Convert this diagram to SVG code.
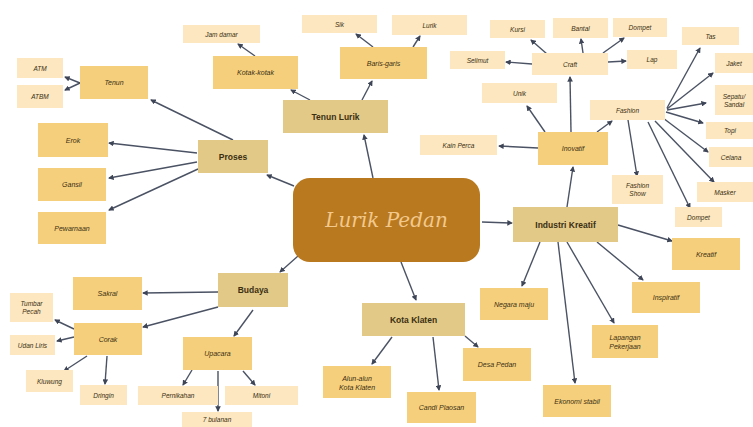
<svg xmlns="http://www.w3.org/2000/svg" width="753" height="427" viewBox="0 0 753 427">
<style>
  .l1 rect { fill: #E2C987; }
  .l2 rect { fill: #F6CF7C; }
  .l3 rect { fill: #FCE7C0; }
  text { font-family: "Liberation Sans", Arial, sans-serif; fill: #3B2F12; text-anchor: middle; dominant-baseline: central; }
  .l1 text { font-size: 8.5px; font-weight: bold; }
  .l2 text { font-size: 7px; font-style: italic; }
  .l3 text { font-size: 6.5px; font-style: italic; }
  #connectors line { stroke: #4A5263; stroke-width: 1.4; marker-end: url(#arr); }
</style>
<defs>
  <marker id="arr" viewBox="0 0 6 6" refX="5" refY="3" markerWidth="4" markerHeight="4" orient="auto">
    <path d="M0,0 L6,3 L0,6 z" fill="#3E4556"/>
  </marker>
</defs>
<rect width="753" height="427" fill="#FFFFFF"/>

<g id="connectors">
  <!-- center -->
  <line x1="373" y1="178" x2="364" y2="135"/>
  <line x1="294" y1="186" x2="267" y2="175"/>
  <line x1="298" y1="256" x2="280" y2="272"/>
  <line x1="401" y1="262" x2="416" y2="300"/>
  <line x1="482" y1="222" x2="512" y2="223"/>
  <!-- Tenun Lurik -->
  <line x1="310" y1="100" x2="291" y2="90"/>
  <line x1="362" y1="100" x2="372" y2="81"/>
  <line x1="255" y1="56" x2="238" y2="44"/>
  <line x1="373" y1="47" x2="356" y2="34"/>
  <line x1="413" y1="47" x2="420" y2="36"/>
  <!-- Proses -->
  <line x1="233" y1="140" x2="151" y2="100"/>
  <line x1="197" y1="153" x2="109" y2="143"/>
  <line x1="197" y1="162" x2="109" y2="178"/>
  <line x1="198" y1="169" x2="109" y2="210"/>
  <line x1="80" y1="83" x2="65" y2="77"/>
  <line x1="80" y1="83" x2="65" y2="90"/>
  <!-- Budaya -->
  <line x1="218" y1="292" x2="143" y2="293"/>
  <line x1="218" y1="307" x2="143" y2="327"/>
  <line x1="253" y1="310" x2="234" y2="336"/>
  <line x1="74" y1="329" x2="55" y2="320"/>
  <line x1="74" y1="337" x2="57" y2="341"/>
  <line x1="87" y1="356" x2="64" y2="371"/>
  <line x1="107" y1="356" x2="105" y2="384"/>
  <line x1="192" y1="370" x2="183" y2="385"/>
  <line x1="218" y1="371" x2="218" y2="411"/>
  <line x1="243" y1="371" x2="255" y2="385"/>
  <!-- Kota Klaten -->
  <line x1="392" y1="337" x2="372" y2="364"/>
  <line x1="433" y1="337" x2="439" y2="390"/>
  <line x1="465" y1="336" x2="478" y2="347"/>
  <!-- Industri Kreatif -->
  <line x1="567" y1="207" x2="573" y2="167"/>
  <line x1="618" y1="225" x2="672" y2="241"/>
  <line x1="540" y1="242" x2="522" y2="286"/>
  <line x1="558" y1="242" x2="575" y2="383"/>
  <line x1="567" y1="242" x2="614" y2="323"/>
  <line x1="597" y1="242" x2="643" y2="280"/>
  <!-- Inovatif -->
  <line x1="538" y1="148" x2="499" y2="146"/>
  <line x1="545" y1="132" x2="527" y2="106"/>
  <line x1="571" y1="132" x2="570" y2="77"/>
  <line x1="597" y1="132" x2="612" y2="121"/>
  <!-- Craft -->
  <line x1="532" y1="64" x2="506" y2="62"/>
  <line x1="547" y1="54" x2="531" y2="40"/>
  <line x1="583" y1="53" x2="581" y2="39"/>
  <line x1="603" y1="53" x2="624" y2="38"/>
  <line x1="608" y1="62" x2="626" y2="61"/>
  <!-- Fashion -->
  <line x1="667" y1="108" x2="700" y2="48"/>
  <line x1="667" y1="109" x2="713" y2="73"/>
  <line x1="667" y1="110" x2="706" y2="103"/>
  <line x1="666" y1="112" x2="703" y2="123"/>
  <line x1="663" y1="118" x2="708" y2="152"/>
  <line x1="655" y1="121" x2="714" y2="182"/>
  <line x1="648" y1="122" x2="690" y2="208"/>
  <line x1="628" y1="120" x2="637" y2="176"/>
</g>

<g id="center">
  <rect x="293" y="178" width="187" height="84" rx="17" fill="#B8791F"/>
  <text x="386.5" y="220" style="font-family:'DejaVu Serif','Liberation Serif',serif;font-style:italic;font-size:20px;fill:#F3C88C;">Lurik Pedan</text>
</g>

<!-- Level 1 -->
<g id="tenun-lurik" class="l1"><rect x="283" y="100" width="105" height="33"/><text x="335.5" y="116.5">Tenun Lurik</text></g>
<g id="proses" class="l1"><rect x="198" y="140" width="70" height="33"/><text x="233" y="156.5">Proses</text></g>
<g id="budaya" class="l1"><rect x="218" y="273" width="70" height="34"/><text x="253" y="290">Budaya</text></g>
<g id="kota-klaten" class="l1"><rect x="362" y="303" width="103" height="33"/><text x="413.5" y="319.5">Kota Klaten</text></g>
<g id="industri-kreatif" class="l1"><rect x="513" y="207" width="105" height="35"/><text x="565.5" y="224.5">Industri Kreatif</text></g>

<!-- Level 2 -->
<g id="kotak-kotak" class="l2"><rect x="213" y="56" width="85" height="33"/><text x="255.5" y="72.5">Kotak-kotak</text></g>
<g id="baris-garis" class="l2"><rect x="340" y="47" width="87" height="32"/><text x="383.5" y="63">Baris-garis</text></g>
<g id="tenun" class="l2"><rect x="80" y="66" width="68" height="33"/><text x="114" y="82.5">Tenun</text></g>
<g id="erok" class="l2"><rect x="38" y="123" width="70" height="34"/><text x="73" y="140">Erok</text></g>
<g id="gansil" class="l2"><rect x="38" y="168" width="68" height="33"/><text x="72" y="184.5">Gansil</text></g>
<g id="pewarnaan" class="l2"><rect x="38" y="212" width="68" height="32"/><text x="72" y="228">Pewarnaan</text></g>
<g id="sakral" class="l2"><rect x="73" y="277" width="69" height="33"/><text x="107.5" y="293.5">Sakral</text></g>
<g id="corak" class="l2"><rect x="74" y="323" width="68" height="32"/><text x="108" y="339">Corak</text></g>
<g id="upacara" class="l2"><rect x="183" y="337" width="69" height="33"/><text x="217.5" y="353.5">Upacara</text></g>
<g id="alun-alun" class="l2"><rect x="323" y="366" width="68" height="32"/><text x="357" y="378">Alun-alun</text><text x="357" y="387">Kota Klaten</text></g>
<g id="candi-plaosan" class="l2"><rect x="407" y="392" width="69" height="31"/><text x="441.5" y="407.5">Candi Plaosan</text></g>
<g id="desa-pedan" class="l2"><rect x="463" y="348" width="68" height="33"/><text x="497" y="364.5">Desa Pedan</text></g>
<g id="negara-maju" class="l2"><rect x="480" y="288" width="68" height="32"/><text x="514" y="304">Negara maju</text></g>
<g id="ekonomi-stabil" class="l2"><rect x="543" y="385" width="68" height="32"/><text x="577" y="401">Ekonomi stabil</text></g>
<g id="lapangan-pekerjaan" class="l2"><rect x="592" y="325" width="66" height="33"/><text x="625" y="337">Lapangan</text><text x="625" y="346">Pekerjaan</text></g>
<g id="inspiratif" class="l2"><rect x="632" y="282" width="68" height="31"/><text x="666" y="297.5">Inspiratif</text></g>
<g id="kreatif" class="l2"><rect x="672" y="238" width="68" height="32"/><text x="706" y="254">Kreatif</text></g>
<g id="inovatif" class="l2"><rect x="538" y="132" width="70" height="33"/><text x="573" y="148.5">Inovatif</text></g>

<!-- Level 3 -->
<g id="jam-damar" class="l3"><rect x="183" y="25" width="77" height="18"/><text x="221.5" y="34">Jam damar</text></g>
<g id="sik" class="l3"><rect x="302" y="15" width="75" height="18"/><text x="339.5" y="24">Sik</text></g>
<g id="lurik" class="l3"><rect x="392" y="15" width="75" height="20"/><text x="429.5" y="25">Lurik</text></g>
<g id="atm" class="l3"><rect x="17" y="58" width="46" height="20"/><text x="40" y="68">ATM</text></g>
<g id="atbm" class="l3"><rect x="17" y="85" width="46" height="23"/><text x="40" y="96.5">ATBM</text></g>
<g id="kursi" class="l3"><rect x="490" y="20" width="55" height="18"/><text x="517.5" y="29">Kursi</text></g>
<g id="bantal" class="l3"><rect x="553" y="18" width="55" height="20"/><text x="580.5" y="28">Bantal</text></g>
<g id="dompet-craft" class="l3"><rect x="613" y="18" width="54" height="19"/><text x="640" y="27.5">Dompet</text></g>
<g id="selimut" class="l3"><rect x="450" y="51" width="55" height="18"/><text x="477.5" y="60">Selimut</text></g>
<g id="craft" class="l3"><rect x="532" y="53" width="76" height="22"/><text x="570" y="64">Craft</text></g>
<g id="lap" class="l3"><rect x="627" y="50" width="50" height="19"/><text x="652" y="59.5">Lap</text></g>
<g id="unik" class="l3"><rect x="482" y="83" width="75" height="20"/><text x="519.5" y="93">Unik</text></g>
<g id="fashion" class="l3"><rect x="590" y="100" width="75" height="20"/><text x="627.5" y="110">Fashion</text></g>
<g id="kain-perca" class="l3"><rect x="420" y="135" width="77" height="20"/><text x="458.5" y="145">Kain Perca</text></g>
<g id="tas" class="l3"><rect x="682" y="27" width="57" height="18"/><text x="710.5" y="36">Tas</text></g>
<g id="jaket" class="l3"><rect x="715" y="53" width="38" height="20"/><text x="734" y="63">Jaket</text></g>
<g id="sepatu" class="l3"><rect x="715" y="85" width="38" height="30"/><text x="734" y="96">Sepatu/</text><text x="734" y="104">Sandal</text></g>
<g id="topi" class="l3"><rect x="706" y="122" width="47" height="17"/><text x="730" y="130.5">Topi</text></g>
<g id="celana" class="l3"><rect x="709" y="147" width="44" height="20"/><text x="731" y="157">Celana</text></g>
<g id="masker" class="l3"><rect x="697" y="182" width="56" height="20"/><text x="725" y="192">Masker</text></g>
<g id="fashion-show" class="l3"><rect x="612" y="175" width="51" height="29"/><text x="637.5" y="185">Fashion</text><text x="637.5" y="193">Show</text></g>
<g id="dompet-fashion" class="l3"><rect x="675" y="207" width="47" height="20"/><text x="698.5" y="217">Dompet</text></g>
<g id="tumbar-pecah" class="l3"><rect x="10" y="293" width="43" height="29"/><text x="31.5" y="303">Tumbar</text><text x="31.5" y="311">Pecah</text></g>
<g id="udan-liris" class="l3"><rect x="10" y="335" width="45" height="20"/><text x="32.5" y="345">Udan Liris</text></g>
<g id="kluwung" class="l3"><rect x="26" y="370" width="47" height="22"/><text x="49.5" y="381">Kluwung</text></g>
<g id="dringin" class="l3"><rect x="80" y="385" width="47" height="20"/><text x="103.5" y="395">Dringin</text></g>
<g id="pernikahan" class="l3"><rect x="138" y="386" width="80" height="19"/><text x="178" y="395.5">Pernikahan</text></g>
<g id="mitoni" class="l3"><rect x="225" y="386" width="73" height="19"/><text x="261.5" y="395.5">Mitoni</text></g>
<g id="tujuh-bulanan" class="l3"><rect x="182" y="412" width="70" height="15"/><text x="217" y="419.5">7 bulanan</text></g>
</svg>
